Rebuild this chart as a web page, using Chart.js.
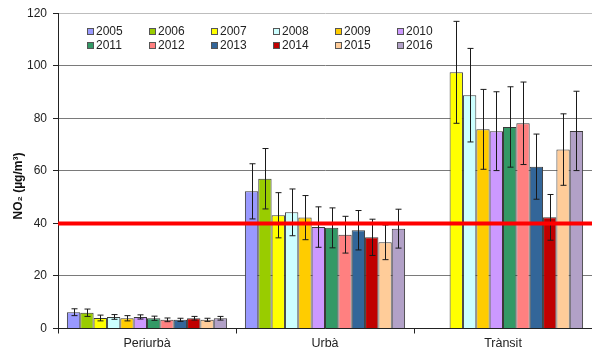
<!DOCTYPE html>
<html>
<head>
<meta charset="utf-8">
<script src="https://cdn.jsdelivr.net/npm/chart.js@4/dist/chart.umd.min.js"></script>
<style>
  html, body { margin: 0; padding: 0; background: #fff; }
  #wrap { width: 592px; height: 354px; position: relative; }
</style>
</head>
<body>
<div id="wrap"><canvas id="chart"></canvas></div>
<script>
// Zones and years
const categories = ['Periurbà', 'Urbà', 'Trànsit'];
const years = ['2005', '2006', '2007', '2008', '2009', '2010', '2011', '2012', '2013', '2014', '2015', '2016'];

// Annual mean NO2 (µg/m3) per zone, one value per year
const periurbaNO2 = [6.2, 6.0, 4.0, 4.4, 3.9, 4.4, 3.9, 3.3, 3.3, 3.9, 3.3, 3.9];
const urbaNO2     = [52.2, 57.0, 43.1, 44.2, 42.2, 38.6, 38.3, 35.7, 37.4, 34.7, 32.8, 38.0];
const transitNO2  = [null, null, 97.5, 88.8, 75.8, 75.1, 76.7, 78.1, 61.6, 42.3, 68.1, 75.2];

// Standard deviation (error bar half-length) per zone
const periurbaErr = [1.3, 1.4, 1.1, 0.9, 1.0, 0.8, 0.8, 0.7, 0.6, 0.7, 0.6, 0.7];
const urbaErr     = [10.5, 11.5, 8.6, 8.9, 8.4, 7.7, 7.6, 7.0, 7.5, 6.9, 6.6, 7.4];
const transitErr  = [null, null, 19.4, 17.8, 15.2, 15.0, 15.3, 15.7, 12.4, 8.7, 13.6, 15.1];

// Annual limit value
const limitValue = 40;

// Y axis ticks
const yTicks = [0, 20, 40, 60, 80, 100, 120];

const yearColors = ['#9999FF', '#99CC00', '#FFFF00', '#CCFFFF', '#FFCC00', '#CC99FF',
                    '#339966', '#FF8080', '#336699', '#C00000', '#FFCC99', '#B2A1C7'];

const datasets = years.map((y, i) => ({
  label: y,
  data: [periurbaNO2[i], urbaNO2[i], transitNO2[i]],
  errors: [periurbaErr[i], urbaErr[i], transitErr[i]],
  backgroundColor: yearColors[i],
  borderColor: '#3a3a3a',
  borderWidth: 1,
  categoryPercentage: 0.9,
  barPercentage: 1.0
}));

const FONT = 'Arial, "Liberation Sans", sans-serif';

const errorBars = {
  id: 'errorBars',
  afterDatasetsDraw(chart) {
    const ctx = chart.ctx;
    const ys = chart.scales.y;
    ctx.save();
    ctx.strokeStyle = '#1a1a1a';
    ctx.lineWidth = 1;
    chart.data.datasets.forEach((ds, di) => {
      const meta = chart.getDatasetMeta(di);
      meta.data.forEach((el, idx) => {
        const v = ds.data[idx], e = ds.errors[idx];
        if (v == null || e == null) return;
        const x = Math.round(el.x) + 0.5;
        const yt = ys.getPixelForValue(v + e);
        const yb = ys.getPixelForValue(v - e);
        ctx.beginPath();
        ctx.moveTo(x, yt); ctx.lineTo(x, yb);
        ctx.moveTo(x - 3, yt); ctx.lineTo(x + 3, yt);
        ctx.moveTo(x - 3, yb); ctx.lineTo(x + 3, yb);
        ctx.stroke();
      });
    });
    // limit line
    const ca = chart.chartArea;
    const yl = ys.getPixelForValue(limitValue);
    ctx.strokeStyle = '#FF0000';
    ctx.lineWidth = 4;
    ctx.beginPath();
    ctx.moveTo(ca.left, yl); ctx.lineTo(ca.right, yl);
    ctx.stroke();
    ctx.restore();
  },
  afterDraw(chart) {
    const ctx = chart.ctx;
    const ca = chart.chartArea;
    ctx.save();
    // legend, two rows of six
    ctx.font = '12px ' + FONT;
    ctx.textBaseline = 'middle';
    ctx.textAlign = 'left';
    years.forEach((y, i) => {
      const col = i % 6, row = Math.floor(i / 6);
      const bx = ca.left + 29 + col * 62;
      const by = 28 + row * 14;
      ctx.fillStyle = yearColors[i];
      ctx.fillRect(bx, by, 6, 6);
      ctx.strokeStyle = '#555';
      ctx.lineWidth = 1;
      ctx.strokeRect(bx + 0.5, by + 0.5, 6, 6);
      ctx.fillStyle = '#222';
      ctx.fillText(y, bx + 9, by + 3.5);
    });
    // y axis title
    ctx.translate(19, 186);
    ctx.rotate(-Math.PI / 2);
    ctx.textAlign = 'center';
    ctx.font = 'bold 12px ' + FONT;
    ctx.fillStyle = '#111';
    ctx.fillText('NO₂ (µg/m³)', 0, 0);
    ctx.restore();
  }
};

new Chart(document.getElementById('chart'), {
  type: 'bar',
  data: { labels: categories, datasets },
  options: {
    responsive: true,
    maintainAspectRatio: false,
    animation: false,
    layout: { padding: { top: 13, right: 0, left: 0, bottom: 0 } },
    plugins: { legend: { display: false }, tooltip: { enabled: false } },
    scales: {
      x: {
        grid: { display: true, drawOnChartArea: false, tickLength: 5, color: '#222', offset: true },
        border: { color: '#222', width: 1 },
        ticks: { color: '#222', font: { size: 12.5, family: FONT }, padding: 3 },
        afterFit(s) { s.height = 25.5; }
      },
      y: {
        min: 0, max: 120,
        afterBuildTicks(s) { s.ticks = yTicks.map(v => ({ value: v })); },
        grid: {
          color: (c) => c.tick && c.tick.value === 120 ? '#bdbdbd' : '#7a7a7a',
          tickLength: 5,
          tickColor: '#222'
        },
        border: { color: '#222', width: 1 },
        ticks: { color: '#222', font: { size: 12, family: FONT }, padding: 6 },
        afterFit(s) { s.width = 58; }
      }
    }
  },
  plugins: [errorBars]
});
</script>
</body>
</html>
